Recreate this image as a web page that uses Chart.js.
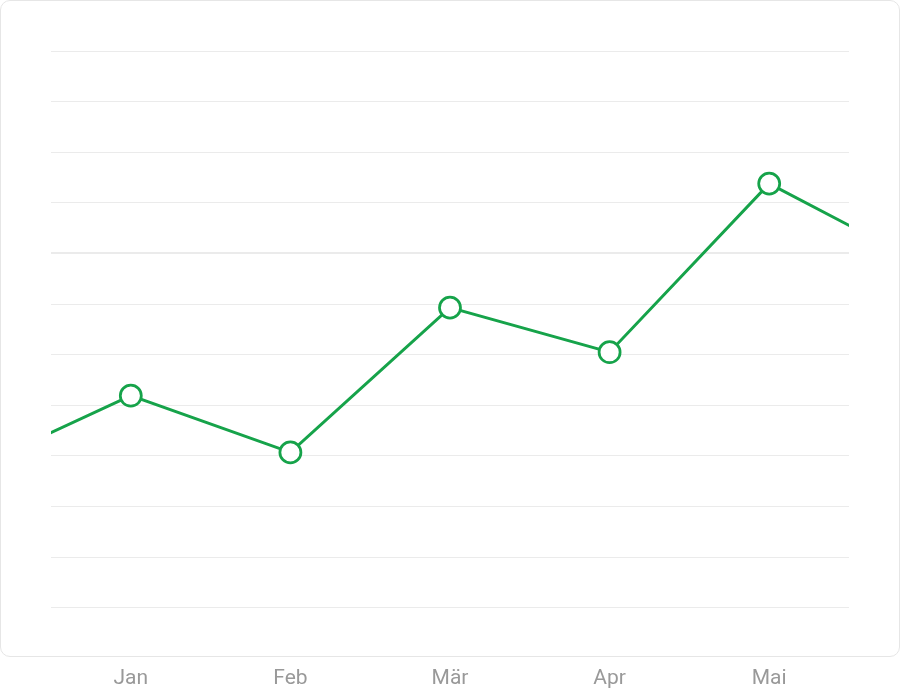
<!DOCTYPE html>
<html>
<head>
<meta charset="utf-8">
<script src="https://cdn.jsdelivr.net/npm/chart.js@4"></script>
<style>
    html, body { margin: 0; padding: 0; background: #ffffff; }
    .wrap { position: relative; width: 900px; height: 692px; }
    .card {
        position: absolute; left: 0; top: 0; width: 898px; height: 655px;
        border: 1px solid #e6e6e6; border-radius: 10px; background: #ffffff;
    }
    canvas { position: absolute; left: 0; top: 0; }
</style>
</head>
<body>
<div class="wrap">
    <div class="card"></div>
    <canvas id="chart" width="900" height="692"></canvas>
</div>
<script>
// Dez and Jun sit just outside the visible range, so the line runs off both edges
const months = ['Dez', 'Jan', 'Feb', 'Mär', 'Apr', 'Mai', 'Jun'];
const values = [27.3, 41.9, 30.7, 59.3, 50.5, 83.8, 67.3];
const firstShown = 'Jan';
const lastShown = 'Mai';
const yMin = 0;
const yMax = 110;
const yStep = 10;

document.addEventListener('DOMContentLoaded', function () {
    const ctx = document.getElementById('chart').getContext('2d');
    new Chart(ctx, {
        type: 'line',
        data: {
            labels: months,
            datasets: [{
                data: values,
                borderColor: '#16a34a',
                borderWidth: 3,
                pointRadius: 10.5,
                pointHoverRadius: 10.5,
                pointBackgroundColor: '#ffffff',
                pointBorderColor: '#16a34a',
                pointBorderWidth: 2.75,
                tension: 0,
                clip: 0
            }]
        },
        options: {
            responsive: false,
            animation: false,
            layout: {
                padding: { left: 51, right: 51, top: 51, bottom: -49 }
            },
            plugins: {
                legend: { display: false },
                tooltip: { enabled: false }
            },
            scales: {
                x: {
                    offset: true,
                    // narrow the visible range without user min/max so the outer segments still get drawn
                    afterDataLimits: scale => {
                        scale.min = months.indexOf(firstShown);
                        scale.max = months.indexOf(lastShown);
                    },
                    grid: { display: false },
                    border: { display: false },
                    ticks: {
                        color: '#999999',
                        padding: 50,
                        font: { family: 'Roboto', size: 21 }
                    }
                },
                y: {
                    min: yMin,
                    max: yMax,
                    ticks: { display: false, stepSize: yStep },
                    border: { display: false },
                    grid: {
                        drawTicks: false,
                        color: '#ebebeb',
                        lineWidth: c => (c.tick && c.tick.value === 70 ? 2 : 1)
                    }
                }
            }
        }
    });
});
</script>
</body>
</html>
